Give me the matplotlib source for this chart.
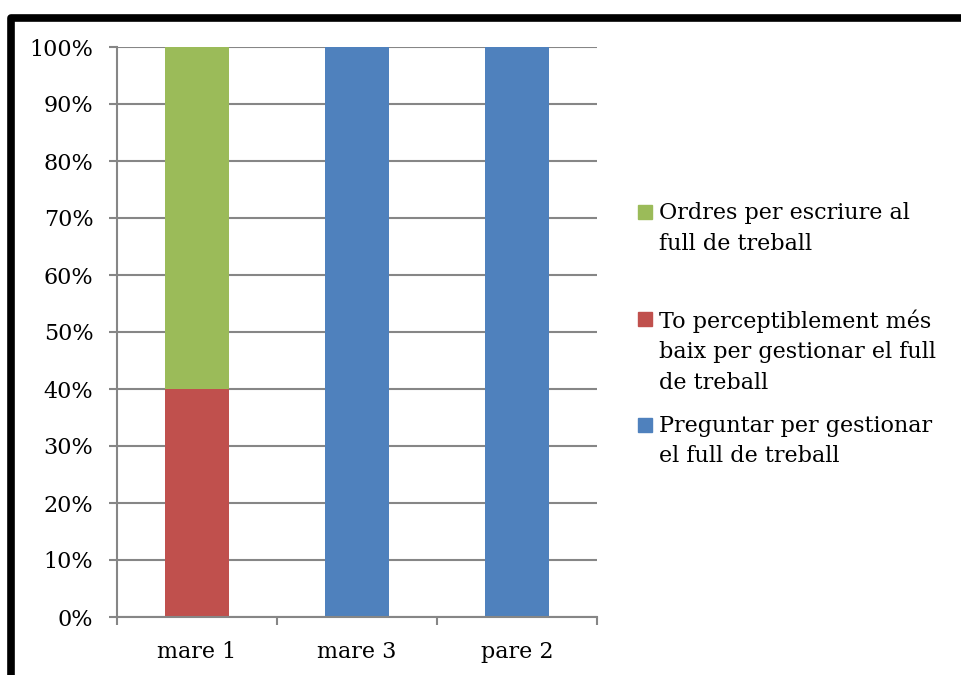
import matplotlib.pyplot as plt
import numpy as np
from matplotlib.patches import Rectangle
from matplotlib.ticker import FixedLocator, PercentFormatter

plt.rcParams['font.family'] = ['DejaVu Serif']

categories = ['mare 1', 'mare 3', 'pare 2']
# stacked from the bottom up
series_names = ['Preguntar per gestionar\nel full de treball',
                'To perceptiblement més\nbaix per gestionar el full\nde treball',
                'Ordres per escriure al\nfull de treball']
series_values = [[0, 100, 100],
                 [40, 0, 0],
                 [60, 0, 0]]
series_colors = ['#4F81BD', '#C0504D', '#9BBB59']
yticks = [0, 10, 20, 30, 40, 50, 60, 70, 80, 90, 100]

grey = '#868686'

fig = plt.figure(figsize=(9.61, 6.75), dpi=100)
ax = fig.add_axes([117 / 961, 1 - 617 / 675, 480 / 961, 570 / 675])

x = np.arange(len(categories))
bottom = np.zeros(len(categories))
for vals, col in zip(series_values, series_colors):
    ax.bar(x, vals, width=0.4, bottom=bottom, color=col, zorder=3)
    bottom += np.array(vals)

ax.set_xlim(-0.5, len(categories) - 0.5)
ax.set_ylim(0, 100)
ax.set_yticks(yticks)
ax.yaxis.set_major_formatter(PercentFormatter(decimals=0))
ax.yaxis.grid(True, color=grey, lw=1.5, zorder=0)

# category separators as major ticks, labels on minor ticks
ax.xaxis.set_major_locator(FixedLocator(np.arange(-0.5, len(categories), 1)))
ax.xaxis.set_major_formatter(plt.NullFormatter())
ax.xaxis.set_minor_locator(FixedLocator(x))
ax.set_xticklabels(categories, minor=True)
ax.tick_params(axis='x', which='major', length=6, width=1.5, color=grey)
ax.tick_params(axis='x', which='minor', length=0, pad=17, labelsize=16)
ax.tick_params(axis='y', length=6, width=1.5, color=grey, pad=11, labelsize=16)

for s in ['top', 'right']:
    ax.spines[s].set_visible(False)
for s in ['left', 'bottom']:
    ax.spines[s].set_color(grey)
    ax.spines[s].set_linewidth(1.5)
    ax.spines[s].set_zorder(4)

# legend, top series first
legend_tops = [205, 312, 418]
for name, col, top in zip(series_names[::-1], series_colors[::-1], legend_tops):
    fig.add_artist(Rectangle((638 / 961, 1 - (top + 14) / 675), 14 / 961, 14 / 675,
                             transform=fig.transFigure, color=col))
    fig.text(659 / 961, 1 - (top - 3) / 675, name, fontsize=16, va='top',
             linespacing=1.5)

# outer frame
fig.add_artist(Rectangle((10.5 / 961, -0.2), 2, 0.2 + 1 - 17.5 / 675,
                         transform=fig.transFigure, fill=False, ec='black',
                         lw=5.5, joinstyle='round'))

fig.savefig('out.png', dpi=100)
